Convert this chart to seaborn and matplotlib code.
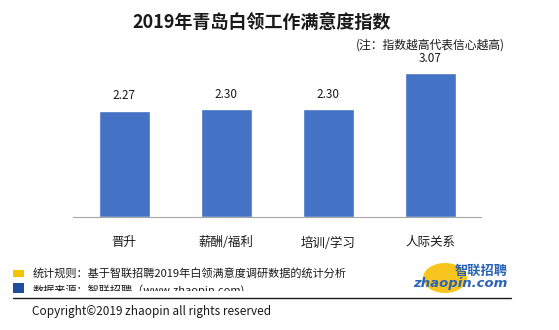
import matplotlib
matplotlib.use("Agg")
import matplotlib.pyplot as plt
from matplotlib.patches import Rectangle, Ellipse
import seaborn as sns
import pandas as pd

categories = ["晋升", "薪酬/福利", "培训/学习", "人际关系"]
scores = [2.27, 2.30, 2.30, 3.07]
title = "2019年青岛白领工作满意度指数"
note = "(注：指数越高代表信心越高)"
footer_rule = "统计规则：基于智联招聘2019年白领满意度调研数据的统计分析"
footer_source = "数据来源：智联招聘（www.zhaopin.com)"
copyright_text = "Copyright©2019 zhaopin all rights reserved"

sns.set_theme(style="white")
plt.rcParams["font.family"] = ["Noto Sans CJK SC", "DejaVu Sans"]

W, H = 559, 330
fig = plt.figure(figsize=(W / 100, H / 100), dpi=100)
fig.patch.set_facecolor("white")


def px(x, y):
    return x / W, 1 - y / H


# plot area in pixel coordinates
left, right, base, top = 73, 481, 217, 53
ax = fig.add_axes([left / W, 1 - base / H, (right - left) / W, (base - top) / H])

df = pd.DataFrame({"category": categories, "score": scores})
sns.barplot(data=df, x="category", y="score", color="#4472C4", width=0.5,
            saturation=1, ax=ax)
ax.set_xlim(-0.5, len(categories) - 0.5)
ax.set_ylim(0, 3.5)
ax.set_xlabel("")
ax.set_ylabel("")
ax.set_yticks([])
for s in ["top", "right", "left"]:
    ax.spines[s].set_visible(False)
ax.spines["bottom"].set_color("#a6a6a6")
ax.spines["bottom"].set_linewidth(0.8)
ax.tick_params(axis="x", which="major", length=0, pad=14, labelsize=9,
               labelcolor="#1a1a1a")
ax.set_xticks([i - 0.5 for i in range(len(categories) + 1)], minor=True)
ax.tick_params(axis="x", which="minor", length=4, width=0.8, color="#a6a6a6",
               direction="out")
ax.set_facecolor("white")

for i, v in enumerate(scores):
    ax.annotate(f"{v:.2f}", (i, v), xytext=(0, 6), textcoords="offset points",
                ha="center", va="bottom", fontsize=8.5, color="#1a1a1a")

fig.text(*px(262, 22), title, ha="center", va="center", fontsize=13,
         fontweight="bold", color="#1a1a1a")
fig.text(*px(430, 45), note, ha="center", va="center", fontsize=8.5,
         color="#1a1a1a")

# footer legend squares and notes
fig.add_artist(Rectangle(px(13, 277), 11 / W, 7 / H, transform=fig.transFigure,
                         color="#F5C400", lw=0))
fig.add_artist(Rectangle(px(13, 293), 11 / W, 10 / H, transform=fig.transFigure,
                         color="#1F4E9C", lw=0))
fig.text(*px(33, 273), footer_rule, ha="left", va="center", fontsize=8,
         color="#1a1a1a")
src = fig.text(*px(33, 290), footer_source, ha="left", va="center", fontsize=8,
               color="#1a1a1a")
clip = Rectangle((0, 1 - 291 / H), 1, 20 / H, transform=fig.transFigure)
src.set_clip_path(clip)

fig.add_artist(plt.Line2D([13 / W, 511 / W], [1 - 298 / H] * 2,
                          transform=fig.transFigure, color="#1a1a1a", lw=1))
fig.text(*px(32, 311), copyright_text, ha="left", va="center", fontsize=8.5,
         color="#1a1a1a")

# zhaopin logo
fig.add_artist(Ellipse(px(445, 278), 44 / W, 30 / H, transform=fig.transFigure,
                       color="#F7C51E", lw=0))
fig.text(*px(481, 271), "智联招聘", ha="center", va="center", fontsize=9.5,
         fontweight="bold", style="italic", color="#2B63B5")
fig.text(*px(460, 284), "zhaopin.com", ha="center", va="center", fontsize=9.5,
         fontweight="bold", style="italic", color="#2B63B5",
         family=["DejaVu Sans"])

fig.savefig("out.png", dpi=100, facecolor="white")
